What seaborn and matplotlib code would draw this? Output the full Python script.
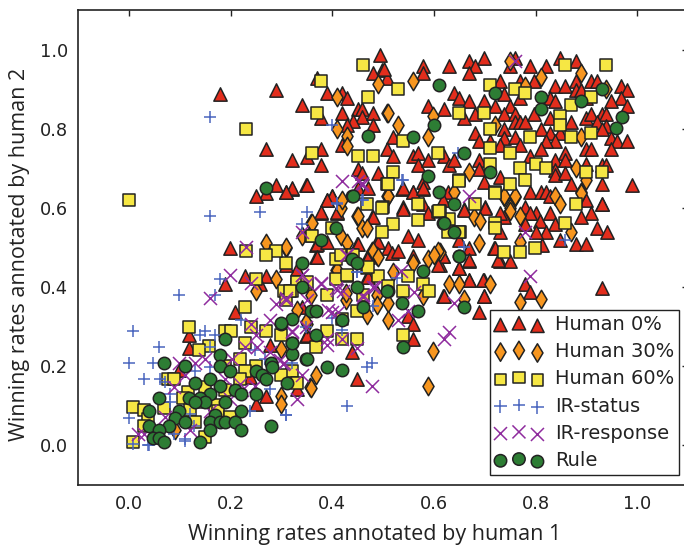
import matplotlib
matplotlib.use("Agg")
import matplotlib.pyplot as plt
import pandas as pd
import seaborn as sns

# (human 1, human 2) winning rates
human_0 = [
    (.699,.979),(.629,.959),(.669,.970),(.680,.959),(.669,.941),(.579,.959),(.579,.941),(.499,.949),(.508,.928),(.494,.987),
    (.759,.979),(.749,.959),(.789,.959),(.820,.959),(.849,.979),(.880,.970),(.730,.920),(.769,.920),(.798,.920),(.839,.909),
    (.859,.909),(.880,.920),(.910,.920),(.920,.920),(.969,.909),(.980,.899),(.969,.877),(.980,.858),(.949,.869),(.639,.890),
    (.649,.877),(.669,.869),(.699,.869),(.739,.888),(.769,.877),(.829,.877),(.839,.869),(.880,.899),(.890,.899),(.900,.877),
    (.589,.858),(.620,.850),(.660,.827),(.680,.838),(.720,.858),(.749,.858),(.739,.838),(.759,.838),(.759,.818),(.769,.818),
    (.779,.818),(.798,.838),(.829,.827),(.869,.818),(.900,.827),(.910,.838),(.930,.838),(.939,.838),(.920,.818),(.939,.807),
    (.930,.799),(.949,.776),(.960,.768),(.980,.768),(.949,.748),(.739,.799),(.680,.789),(.689,.768),(.739,.776),(.759,.780),
    (.710,.768),(.730,.759),(.769,.759),(.810,.799),(.829,.789),(.849,.789),(.839,.768),(.820,.768),(.810,.748),(.859,.738),
    (.900,.748),(.910,.748),(.789,.730),(.839,.720),(.859,.720),(.900,.711),(.930,.709),(.939,.709),(.839,.696),(.839,.683),
    (.859,.689),(.869,.660),(.930,.660),(.990,.658),(.519,.780),(.508,.748),(.519,.730),(.559,.730),(.569,.738),(.569,.709),
    (.589,.720),(.620,.730),(.629,.709),(.639,.720),(.689,.720),(.689,.698),(.699,.666),(.730,.679),(.579,.666),(.538,.647),
    (.559,.639),(.579,.647),(.789,.639),(.810,.639),(.820,.639),(.829,.630),(.900,.620),(.930,.610),(.779,.603),(.540,.603),
    (.579,.610),(.628,.641),(.700,.603),(.930,.609),(.910,.588),(.890,.578),(.829,.588),(.800,.588),(.789,.588),(.808,.568),
    (.839,.560),(.920,.549),(.940,.538),(.879,.509),(.900,.509),(.849,.519),(.820,.538),(.800,.538),(.779,.560),(.739,.578),
    (.730,.588),(.700,.599),(.659,.597),(.730,.538),(.718,.500),(.669,.500),(.730,.467),(.749,.467),(.669,.467),(.619,.479),
    (.650,.519),(.650,.448),(.669,.418),(.699,.418),(.779,.407),(.789,.387),(.930,.398),(.699,.377),(.619,.377),(.689,.337),
    (.612,.457),(.812,.506),(.349,.657),(.309,.639),(.320,.647),(.379,.588),(.389,.619),(.399,.629),(.410,.588),(.369,.506),
    (.369,.477),(.449,.509),(.469,.477),(.489,.517),(.509,.498),(.517,.487),(.530,.490),(.479,.578),(.540,.597),(.549,.528),
    (.569,.519),(.559,.479),(.618,.479),(.609,.457),(.649,.447),(.669,.468),(.669,.418),(.697,.418),(.620,.377),(.699,.377),
    (.549,.327),(.559,.306),(.559,.268),(.469,.426),(.330,.445),(.349,.276),(.439,.236),(.589,.587),(.540,.650),(.559,.639),
    (.579,.650),(.618,.619),(.659,.595),(.720,.498),(.727,.468),(.179,.889),(.290,.899),(.340,.860),(.389,.891),(.370,.929),
    (.420,.891),(.430,.878),(.420,.840),(.450,.850),(.459,.850),(.459,.830),(.480,.840),(.480,.809),(.440,.819),(.430,.809),
    (.379,.827),(.480,.940),(.501,.950),(.419,.760),(.269,.749),(.320,.720),(.379,.750),(.350,.729),(.379,.709),(.450,.698),
    (.459,.688),(.490,.688),(.350,.659),(.290,.659),(.269,.637),(.320,.650),(.309,.639),(.250,.629),(.399,.631),(.389,.619),
    (.379,.589),(.409,.589),(.450,.650),(.470,.650),(.480,.578),(.370,.509),(.389,.515),(.450,.509),(.490,.515),(.199,.498),
    (.370,.477),(.470,.477),(.310,.456),(.229,.428),(.269,.428),(.189,.408),(.259,.408),(.470,.426),(.119,.247),(.119,.278),
    (.209,.337),(.350,.278),(.278,.253),(.099,.190),(.238,.173),(.269,.126),(.250,.105),(.340,.350),(.449,.167),(.330,.143),
]
human_30 = [
    (.749,.970),(.559,.921),(.810,.930),(.890,.941),(.939,.900),(.508,.839),(.530,.810),(.599,.831),(.589,.780),(.720,.810),
    (.890,.780),(.669,.690),(.639,.641),(.879,.700),(.900,.671),(.739,.628),(.759,.628),(.839,.630),(.849,.610),(.890,.641),
    (.508,.630),(.749,.599),(.780,.907),(.739,.629),(.759,.629),(.890,.637),(.679,.578),(.690,.568),(.749,.591),(.769,.580),
    (.869,.538),(.689,.511),(.769,.515),(.629,.409),(.650,.409),(.710,.409),(.659,.371),(.769,.363),(.810,.371),(.612,.489),
    (.509,.630),(.418,.599),(.359,.561),(.449,.580),(.459,.549),(.469,.549),(.340,.529),(.418,.529),(.429,.511),(.309,.498),
    (.479,.490),(.489,.479),(.559,.460),(.520,.439),(.589,.470),(.609,.490),(.600,.481),(.579,.377),(.489,.380),(.489,.355),
    (.509,.359),(.469,.329),(.509,.318),(.599,.239),(.428,.367),(.359,.380),(.408,.443),(.428,.384),(.490,.912),(.409,.880),
    (.510,.840),(.409,.799),(.430,.781),(.430,.756),(.420,.621),(.450,.580),(.509,.631),(.360,.561),(.269,.511),(.309,.501),
    (.290,.420),(.250,.389),(.480,.490),(.490,.477),(.409,.443),(.299,.126),(.299,.105),(.091,.038),(.330,.341),(.350,.308),
    (.356,.147),(.299,.244),(.589,.149),(.369,.177),(.359,.146),(.349,.312),
]
human_60 = [
    (.530,.900),(.710,.911),(.759,.900),(.780,.890),(.859,.960),(.939,.960),(.910,.880),(.869,.860),(.650,.839),(.699,.839),
    (.849,.831),(.849,.810),(.710,.800),(.789,.780),(.869,.780),(.910,.790),(.539,.770),(.710,.751),(.749,.740),(.609,.740),
    (.710,.711),(.769,.700),(.800,.710),(.820,.700),(.900,.690),(.930,.690),(.519,.690),(.508,.660),(.650,.671),(.749,.660),
    (.780,.671),(.720,.639),(.569,.610),(.680,.610),(.879,.610),(.500,.603),(.608,.590),(.720,.637),(.720,.561),(.720,.549),
    (.859,.561),(.799,.500),(.739,.489),(.769,.489),(.630,.571),(.651,.540),(.628,.540),(.612,.591),(.509,.661),(.469,.610),
    (.499,.599),(.569,.570),(.520,.560),(.610,.591),(.649,.540),(.649,.667),(.399,.550),(.359,.529),(.408,.470),(.418,.481),
    (.439,.481),(.309,.460),(.469,.449),(.490,.429),(.549,.429),(.429,.429),(.408,.420),(.579,.409),(.590,.390),(.540,.390),
    (.509,.403),(.389,.380),(.449,.339),(.460,.380),(.330,.409),(.349,.409),(.320,.390),(.305,.390),(.309,.367),(.389,.289),
    (.420,.319),(.369,.249),(.420,.270),(.449,.270),(.540,.279),(.460,.961),(.379,.920),(.470,.880),(.370,.840),(.230,.800),
    (.360,.740),(.450,.730),(.480,.730),(.499,.540),(.000,.620),(.360,.530),(.230,.490),(.289,.490),(.269,.480),(.440,.480),
    (.470,.450),(.430,.431),(.250,.421),(.330,.414),(.350,.414),(.318,.391),(.229,.350),(.119,.299),(.189,.289),(.200,.289),
    (.240,.299),(.269,.289),(.299,.280),(.229,.260),(.158,.250),(.139,.240),(.219,.219),(.250,.200),(.189,.200),(.320,.189),
    (.330,.158),(.229,.189),(.078,.168),(.089,.168),(.219,.168),(.189,.139),(.150,.147),(.117,.135),(.107,.120),(.140,.109),
    (.160,.109),(.170,.101),(.009,.098),(.029,.090),(.069,.095),(.120,.090),(.176,.088),(.038,.067),(.130,.059),(.029,.048),
    (.199,.073),(.150,.021),(.009,.008),(.300,.177),
]
ir_status = [
    (.160,.830),(.399,.810),(.160,.580),(.259,.589),(.350,.589),(.340,.560),(.409,.610),(.459,.621),(.179,.420),(.099,.380),
    (.170,.380),(.448,.439),(.538,.671),(.648,.740),(.410,.612),(.460,.619),(.449,.439),(.527,.422),(.659,.502),(.399,.321),
    (.420,.291),(.348,.300),(.540,.671),(.481,.352),(.859,.519),(.479,.209),(.469,.198),(.430,.099),(.309,.078),(.320,.207),
    (.009,.289),(.059,.249),(.000,.209),(.048,.209),(.029,.168),(.061,.168),(.150,.289),(.140,.278),(.170,.278),(.221,.318),
    (.130,.189),(.160,.198),(.071,.160),(.081,.130),(.081,.109),(.000,.069),(.040,.000),(.111,.016),(.129,.048),(.089,.029),
    (.120,.080),(.238,.088),(.310,.078),(.160,.249),(.248,.240),(.268,.219),(.278,.143),(.037,.000),(.009,.004),(.110,.010),
]
ir_response = [
    (.759,.970),(.669,.630),(.780,.540),(.789,.429),(.639,.359),(.420,.667),(.458,.663),(.340,.540),(.428,.481),(.536,.441),
    (.340,.430),(.379,.409),(.408,.397),(.481,.401),(.561,.388),(.549,.339),(.530,.318),(.399,.338),(.412,.338),(.460,.380),
    (.629,.287),(.620,.268),(.420,.268),(.389,.268),(.389,.253),(.449,.247),(.479,.149),(.330,.118),(.340,.177),(.305,.208),
    (.320,.287),(.349,.298),(.392,.342),(.450,.669),(.459,.659),(.230,.501),(.199,.431),(.240,.410),(.429,.481),(.340,.431),
    (.379,.410),(.409,.393),(.422,.389),(.484,.401),(.160,.372),(.350,.410),(.310,.372),(.460,.376),(.289,.358),(.309,.368),
    (.278,.318),(.240,.308),(.250,.278),(.320,.289),(.350,.368),(.229,.249),(.252,.249),(.278,.236),(.304,.206),(.099,.209),
    (.130,.209),(.150,.219),(.202,.219),(.111,.177),(.089,.147),(.189,.168),(.219,.156),(.248,.151),(.160,.088),(.120,.038),
    (.071,.071),(.029,.029),(.019,.029),(.199,.118),(.222,.139),(.297,.215),
]
rule = [
    (.610,.910),(.720,.891),(.810,.880),(.810,.850),(.889,.871),(.930,.900),(.970,.830),(.959,.801),(.559,.780),(.600,.810),
    (.660,.740),(.710,.690),(.589,.680),(.610,.640),(.639,.610),(.619,.561),(.639,.540),(.650,.479),(.659,.350),(.439,.630),
    (.379,.519),(.408,.550),(.620,.561),(.649,.479),(.340,.460),(.439,.470),(.449,.460),(.579,.441),(.340,.401),(.449,.401),
    (.509,.390),(.460,.350),(.538,.360),(.569,.339),(.359,.339),(.369,.339),(.420,.318),(.320,.319),(.300,.308),(.369,.279),
    (.320,.259),(.320,.231),(.349,.218),(.389,.198),(.420,.190),(.540,.249),(.269,.650),(.440,.631),(.470,.781),(.507,.391),
    (.189,.269),(.299,.309),(.320,.260),(.350,.219),(.280,.209),(.281,.198),(.250,.189),(.261,.179),(.269,.168),(.311,.158),
    (.179,.229),(.179,.200),(.199,.189),(.070,.209),(.110,.200),(.160,.168),(.130,.158),(.179,.149),(.209,.139),(.220,.129),
    (.250,.129),(.160,.129),(.119,.119),(.140,.119),(.150,.109),(.130,.109),(.059,.119),(.189,.109),(.220,.088),(.099,.088),
    (.040,.088),(.170,.078),(.091,.069),(.160,.059),(.179,.059),(.189,.059),(.209,.059),(.111,.059),(.040,.048),(.080,.048),
    (.059,.038),(.160,.038),(.220,.038),(.280,.048),(.048,.018),(.059,.018),(.070,.008),(.140,.008),
]
xticks = [0.0, 0.2, 0.4, 0.6, 0.8, 1.0]
yticks = [0.0, 0.2, 0.4, 0.6, 0.8, 1.0]

sns.set_style("white")
plt.rcParams["font.family"] = "DejaVu Sans"
INK = "#222222"

fig = plt.figure(figsize=(6.84, 5.46), dpi=100)
# right spine falls just past the canvas in the reference
ax = fig.add_axes([78 / 684, 61 / 546, 610 / 684, 475 / 546])

series = [
    (human_0, "Human 0%", "^", 92, "#e32d1c", INK),
    (human_30, "Human 30%", "d", 88, "#f7961f", INK),
    (human_60, "Human 60%", "s", 66, "#f6e744", INK),
    (ir_status, "IR-status", "+", 80, "#4a66bf", None),
    (ir_response, "IR-response", "x", 88, "#8f2c9e", None),
    (rule, "Rule", "o", 80, "#2d7d34", INK),
]
for points, name, marker, size, color, edge in series:
    df = pd.DataFrame(points, columns=["x", "y"])
    if edge is None:
        sns.scatterplot(data=df, x="x", y="y", marker=marker, s=size, color=color,
                        linewidth=1.1, label=name, ax=ax)
    else:
        sns.scatterplot(data=df, x="x", y="y", marker=marker, s=size, color=color,
                        edgecolor=edge, linewidth=1.1, label=name, ax=ax)

ax.set_xlim(-0.1, 1.1)
ax.set_ylim(-0.1, 1.1)
ax.set_xticks(xticks)
ax.set_yticks(yticks)
ax.tick_params(direction="in", length=4.5, width=1.0, color=INK, labelcolor=INK,
               labelsize=12.8, top=True, right=True, pad=7)
for spine in ax.spines.values():
    spine.set_color(INK)
    spine.set_linewidth(1.2)
ax.set_xlabel("Winning rates annotated by human 1", fontsize=15.5, family="Open Sans", color=INK,
              labelpad=8, x=0.486)
ax.set_ylabel("Winning rates annotated by human 2", fontsize=15.5, family="Open Sans", color=INK,
              labelpad=7, y=0.485)

leg = ax.legend(scatterpoints=3, loc="lower right", bbox_to_anchor=(0.985, 0.022), fontsize=14,
                frameon=True, fancybox=False, framealpha=1, edgecolor=INK, labelcolor=INK,
                borderpad=0.24, labelspacing=0.42, handletextpad=0.6, handlelength=2.5, borderaxespad=0)
leg.get_frame().set_linewidth(1.0)

fig.savefig("out.png", dpi=100)
